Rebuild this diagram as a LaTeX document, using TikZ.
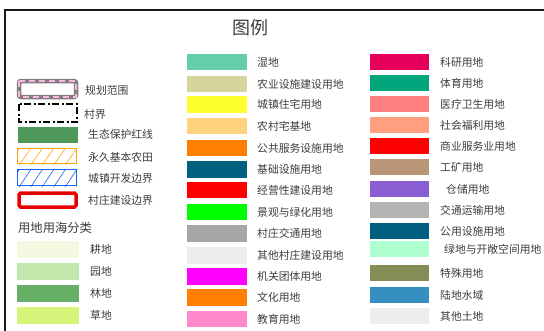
\documentclass[tikz,border=0pt]{standalone}
\usepackage{fontspec}
\setmainfont{Noto Sans CJK SC}
\definecolor{labgray}{HTML}{3C3C3C}
\definecolor{frame}{HTML}{1A1A1A}
\definecolor{cA}{HTML}{66CDAA}
\definecolor{cB}{HTML}{D7D49E}
\definecolor{cC}{HTML}{FFFF2D}
\definecolor{cD}{HTML}{FFD280}
\definecolor{cE}{HTML}{FF7F00}
\definecolor{cF}{HTML}{00627F}
\definecolor{cG}{HTML}{FF0000}
\definecolor{cH}{HTML}{00FF00}
\definecolor{cI}{HTML}{A6A6A6}
\definecolor{cJ}{HTML}{EDEDED}
\definecolor{cK}{HTML}{FF00FF}
\definecolor{cL}{HTML}{FF7F00}
\definecolor{cM}{HTML}{FF89CB}
\definecolor{rA}{HTML}{E6005C}
\definecolor{rB}{HTML}{00A57C}
\definecolor{rC}{HTML}{FF7F7E}
\definecolor{rD}{HTML}{FF9F7F}
\definecolor{rE}{HTML}{FF0000}
\definecolor{rF}{HTML}{B99677}
\definecolor{rG}{HTML}{8A5FD3}
\definecolor{rH}{HTML}{B3B3B3}
\definecolor{rI}{HTML}{005F7F}
\definecolor{rJ}{HTML}{ADFFCF}
\definecolor{rK}{HTML}{858D55}
\definecolor{rL}{HTML}{358FC1}
\definecolor{rM}{HTML}{EDEDED}
\definecolor{lA}{HTML}{F5F7E0}
\definecolor{lB}{HTML}{C2E8AE}
\definecolor{lC}{HTML}{66AF66}
\definecolor{lD}{HTML}{D4F57A}
\definecolor{eco}{HTML}{4F9A5A}
\definecolor{farm}{HTML}{FFA500}
\definecolor{town}{HTML}{1464F0}
\definecolor{vred}{HTML}{E60000}
\definecolor{pinkd}{HTML}{FFB6E0}
\definecolor{grayb}{HTML}{7F7F7F}
\begin{document}
\begin{tikzpicture}[x=1pt,y=-1pt,
  lab/.style={anchor=west, inner sep=0pt, font=\fontsize{10.8}{12}\selectfont, text=labgray},
  sw/.style={minimum width=60pt, minimum height=16.5pt, inner sep=0pt, draw=none}]
\useasboundingbox (0,0) rectangle (544,330);
\draw[line width=1.6pt, frame] (560,10) -- (5,10) -- (5,345);
\node[inner sep=0pt, font=\fontsize{18}{20}\selectfont, text=labgray] (title) at (250,28) {图例};

% left column special symbols
\draw[line width=4.5pt, grayb, rounded corners=2pt, fill=white] (19,81) rectangle (76,97);
\draw[line width=2pt, pinkd, dash pattern=on 6pt off 4pt] (19,81) rectangle (76,97);
\node[lab] (t1) at (85,90) {规划范围};
\draw[line width=1.4pt, black, dash pattern=on 7pt off 2.5pt on 2pt off 2.5pt] (19,104) rectangle (77,122);
\node[lab] (t2) at (84,114) {村界};
\node[sw, fill=eco, minimum height=16pt] (s3) at (47.5,135) {};
\node[lab] (t3) at (88,134) {生态保护红线};
\begin{scope}
\clip (17,148) rectangle (77,164);
\foreach \i in {0,...,7} \draw[farm, line width=0.6pt] (7+\i*11.5,166) -- (21+\i*11.5,146);
\end{scope}
\draw[farm, line width=1.3pt] (17.6,148.6) rectangle (76.4,163.6);
\node[lab] (t4) at (88,157) {永久基本农田};
\begin{scope}
\clip (17,169) rectangle (77,186);
\foreach \i in {0,...,7} \draw[town, line width=0.6pt] (7+\i*11.5,188) -- (21+\i*11.5,167);
\end{scope}
\draw[town, line width=1.3pt] (17.6,169.6) rectangle (76.4,185.6);
\node[lab] (t5) at (88,178) {城镇开发边界};
\draw[vred, line width=3.5pt, rounded corners=1.5pt] (19,193) rectangle (76,207);
\node[lab] (t6) at (88,200) {村庄建设边界};

\node[anchor=west, inner sep=0pt, font=\fontsize{12.3}{14}\selectfont, text=labgray] (cat) at (18,228) {用地用海分类};
\foreach \n/\y/\c/\t in {a/249.5/lA/耕地, b/271.5/lB/园地, c/293.5/lC/林地, d/315.5/lD/草地}{
  \node[sw, minimum width=62pt, minimum height=17pt, fill=\c] (ls\n) at (48,\y) {};
  \node[lab] (lt\n) at (90,\y) {\t};
}

% middle column
\foreach \n/\y/\c/\t in {a/62/cA/湿地, b/84/cB/农业设施建设用地, c/104.5/cC/城镇住宅用地, d/126/cD/农村宅基地,
  e/148/cE/公共服务设施用地, f/169.5/cF/基础设施用地, g/190/cG/经营性建设用地, h/212/cH/景观与绿化用地,
  i/233.5/cI/村庄交通用地, j/255.5/cJ/其他村庄建设用地, k/276.5/cK/机关团体用地, l/297.5/cL/文化用地, m/319/cM/教育用地}{
  \node[sw, fill=\c] (ms\n) at (217,\y) {};
  \node[lab] (mt\n) at (257,\y) {\t};
}

% right column
\foreach \n/\y/\c/\x/\t in {a/62/rA/440/科研用地, b/83/rB/440/体育用地, c/104/rC/440/医疗卫生用地, d/125/rD/440/社会福利用地,
  e/146/rE/440/商业服务业用地, f/167/rF/440/工矿用地, g/189/rG/446/仓储用地, h/210/rH/440/交通运输用地,
  i/231/rI/440/公用设施用地, j/249/rJ/444/绿地与开敞空间用地, k/273/rK/440/特殊用地, l/295/rL/440/陆地水域, m/316/rM/440/其他土地}{
  \node[sw, minimum width=59pt, fill=\c] (rs\n) at (399.5,\y) {};
  \node[lab] (rt\n) at (\x,\y) {\t};
}
\end{tikzpicture}
\end{document}
